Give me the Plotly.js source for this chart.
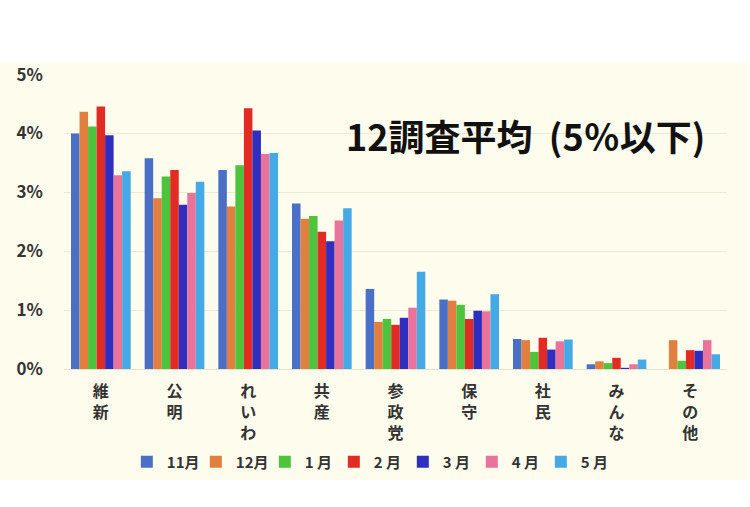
<!DOCTYPE html>
<html>
<head>
<meta charset="utf-8">
<script src="https://cdn.plot.ly/plotly-3.0.1.min.js"></script>
<style>
  body { margin: 0; background: #ffffff; }
  #band { position: absolute; left: 0; top: 63px; width: 748px; height: 417px; background: #fefcec; }
  #chart { position: absolute; left: 0; top: 43px; width: 748px; height: 457px; }
</style>
</head>
<body>
<div id="band"></div>
<div id="chart"></div>
<script>
var parties = ["維新", "公明", "れいわ", "共産", "参政党", "保守", "社民", "みんな", "その他"];
var months = ["11月", "12月", "1 月", "2 月", "3 月", "4 月", "5 月"];
var colors = ["#4a6fc6", "#e07f3e", "#4ec33d", "#e22b24", "#2f2fbf", "#ea739c", "#45a9e6"];

var nov = [4.00, 3.58, 3.38, 2.81, 1.36, 1.18, 0.51, 0.08, 0];
var dec = [4.37, 2.90, 2.76, 2.55, 0.80, 1.16, 0.49, 0.13, 0.49];
var jan = [4.12, 3.27, 3.46, 2.60, 0.85, 1.09, 0.29, 0.10, 0.14];
var feb = [4.46, 3.38, 4.43, 2.33, 0.75, 0.85, 0.53, 0.19, 0.32];
var mar = [3.97, 2.79, 4.05, 2.17, 0.87, 0.99, 0.33, 0.02, 0.31];
var apr = [3.29, 2.99, 3.65, 2.52, 1.04, 0.98, 0.47, 0.08, 0.49];
var may = [3.36, 3.18, 3.67, 2.73, 1.65, 1.27, 0.50, 0.16, 0.25];

var yTicks = [0, 1, 2, 3, 4, 5];
var yTickText = ["0%", "1%", "2%", "3%", "4%", "5%"];

var series = [nov, dec, jan, feb, mar, apr, may];

// vertical labels: one character per line
var tickText = parties.map(function (p) { return p.split("").join("<br>"); });

var traces = series.map(function (vals, i) {
    return {
        type: "bar",
        x: parties,
        y: vals,
        name: months[i],
        marker: { color: colors[i] }
    };
});

var font = "'Noto Sans CJK JP', 'Noto Sans', sans-serif";

var layout = {
    width: 748,
    height: 457,
    margin: { t: 31, r: 21, l: 64, b: 131, autoexpand: false },
    paper_bgcolor: "rgba(0,0,0,0)",
    plot_bgcolor: "rgba(0,0,0,0)",
    barmode: "group",
    bargap: 0.19,
    bargroupgap: 0,
    font: { family: font, color: "#333333" },
    showlegend: true,
    legend: {
        orientation: "h",
        x: 0.459, xanchor: "center",
        y: -0.315, yanchor: "middle",
        bgcolor: "rgba(0,0,0,0)",
        font: { size: 15, color: "#333333", weight: "bold" },
        itemwidth: 30,
        entrywidth: 24,
        entrywidthmode: "pixels",
        tracegroupgap: 0
    },
    xaxis: {
        tickmode: "array",
        tickvals: parties,
        ticktext: tickText,
        tickfont: { size: 16, color: "#333333", weight: "bold" },
        ticks: "",
        ticklabelstandoff: 8,
        showline: true,
        linecolor: "#e8e2cc",
        linewidth: 1,
        automargin: false,
        fixedrange: true
    },
    yaxis: {
        range: [0, 5.01],
        tickmode: "array",
        tickvals: yTicks,
        ticktext: yTickText,
        tickfont: { size: 17, color: "#333333", weight: "bold" },
        ticklabelstandoff: 20,
        gridcolor: "#efe9d4",
        zeroline: false,
        automargin: false,
        fixedrange: true
    },
    annotations: [{
        text: "12調査平均\u00a0 (5％以下)",
        xref: "paper", yref: "paper",
        x: 0.423, y: 0.793,
        xanchor: "left", yanchor: "middle",
        showarrow: false,
        font: { size: 36, color: "#111111", family: font, weight: "bold" }
    }]
};

var config = { responsive: false, displayModeBar: false, staticPlot: true };

Plotly.newPlot("chart", traces, layout, config);
</script>
</body>
</html>
